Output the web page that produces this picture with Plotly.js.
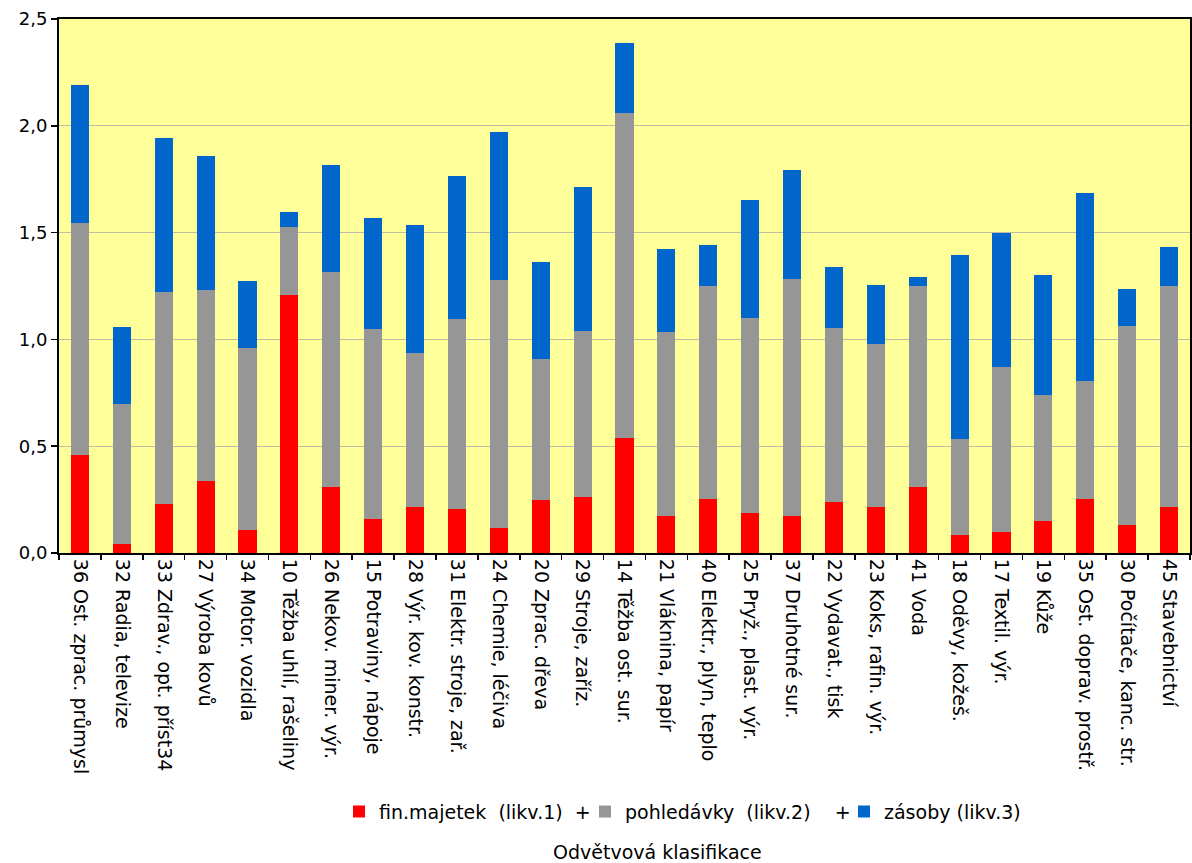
<!DOCTYPE html>
<html>
<head>
<meta charset="utf-8">
<script src="https://cdn.plot.ly/plotly-3.0.1.min.js"></script>
<style>html,body{margin:0;padding:0;background:#fff;}#chart{width:1192px;height:863px;}</style>
</head>
<body>
<div id="chart"></div>
<script>
const categories = [
  "36 Ost. zprac. průmysl", "32 Radia, televize", "33 Zdrav., opt. příst34", "27 Výroba kovů",
  "34 Motor. vozidla", "10 Těžba uhlí, rašeliny", "26 Nekov. miner. výr.", "15 Potraviny, nápoje",
  "28 Výr. kov. konstr.", "31 Elektr. stroje, zař.", "24 Chemie, léčiva", "20 Zprac. dřeva",
  "29 Stroje, zaříz.", "14 Těžba ost. sur.", "21 Vláknina, papír", "40 Elektr., plyn, teplo",
  "25 Pryž., plast. výr.", "37 Druhotné sur.", "22 Vydavat., tisk", "23 Koks, rafin. výr.",
  "41 Voda", "18 Oděvy, kožeš.", "17 Textil. výr.", "19 Kůže", "35 Ost. doprav. prostř.",
  "30 Počítače, kanc. str.", "45 Stavebnictví"
];
// cumulative levels
const likv1 = [0.459, 0.042, 0.228, 0.337, 0.109, 1.209, 0.309, 0.160, 0.214, 0.204, 0.116, 0.246, 0.260, 0.540, 0.173, 0.253, 0.187, 0.173, 0.239, 0.216, 0.309, 0.084, 0.098, 0.150, 0.253, 0.131, 0.216];
const likv2 = [1.546, 0.698, 1.223, 1.232, 0.961, 1.528, 1.317, 1.051, 0.937, 1.096, 1.278, 0.909, 1.040, 2.059, 1.036, 1.251, 1.101, 1.284, 1.054, 0.979, 1.251, 0.534, 0.872, 0.740, 0.806, 1.064, 1.251];
const likv3 = [2.193, 1.059, 1.945, 1.860, 1.275, 1.598, 1.818, 1.569, 1.536, 1.765, 1.970, 1.363, 1.713, 2.390, 1.425, 1.443, 1.654, 1.795, 1.340, 1.256, 1.293, 1.396, 1.500, 1.303, 1.687, 1.237, 1.434];
const NB = "\u00a0";
const seriesNames = [
  "fin.majetek" + NB + NB + "(likv.1)" + NB + NB + "+",
  "pohledávky" + NB + NB + "(likv.2)" + NB + NB + NB + NB + "+",
  "zásoby (likv.3)"
];
const seriesColors = ["#FF0000", "#969696", "#0066CC"];
const yTicks = [0, 0.5, 1.0, 1.5, 2.0, 2.5];
const axisTitle = "Odvětvová klasifikace";

const part1 = likv1;
const part2 = likv2.map((v, i) => v - likv1[i]);
const part3 = likv3.map((v, i) => v - likv2[i]);
const parts = [part1, part2, part3];
const entryWidths = [201, 214, 170];

const font = "DejaVu Sans, Verdana, sans-serif";
const traces = parts.map((p, k) => ({
  type: "bar", x: categories, y: p, name: seriesNames[k],
  marker: {color: seriesColors[k], line: {width: 0}},
  legendwidth: entryWidths[k],
  hoverinfo: "x+y"
}));

const layout = {
  width: 1192, height: 863,
  barmode: "stack", bargap: 0.57,
  separators: ", ",
  paper_bgcolor: "#ffffff", plot_bgcolor: "#FFFF99",
  margin: {l: 59, r: 2, t: 19, b: 310},
  font: {family: font, size: 19, color: "#000"},
  showlegend: true,
  legend: {orientation: "h", x: (339 - 59) / 1131, xanchor: "left", y: -0.449, yanchor: "top",
           font: {family: font, size: 19, color: "#000"}, itemwidth: 30, traceorder: "normal",
           entrywidthmode: "pixels",
           bgcolor: "rgba(0,0,0,0)"},
  xaxis: {
    type: "category", tickangle: 90, ticks: "outside", tickson: "boundaries", ticklen: 5,
    tickcolor: "#000", tickwidth: 1.5, showline: true, linecolor: "#000", linewidth: 2,
    mirror: true, showgrid: false, tickfont: {family: font, size: 19, color: "#000"},
    automargin: false
  },
  yaxis: {
    range: [0, 2.5], tickvals: yTicks, tickformat: ".1f", ticks: "outside", ticklen: 6,
    tickcolor: "#000", tickwidth: 1.5, showline: true, linecolor: "#000", linewidth: 2,
    mirror: true, showgrid: true, gridcolor: "#BDBDA8", gridwidth: 1, zeroline: false,
    tickfont: {family: font, size: 18, color: "#000"}, automargin: false
  },
  annotations: [{
    text: axisTitle, xref: "paper", yref: "paper", x: (657 - 59) / 1131, y: -0.560,
    xanchor: "center", yanchor: "middle", showarrow: false,
    font: {family: font, size: 19, color: "#000"}
  }]
};

Plotly.newPlot("chart", traces, layout, {displayModeBar: false, staticPlot: true});
</script>
</body>
</html>
